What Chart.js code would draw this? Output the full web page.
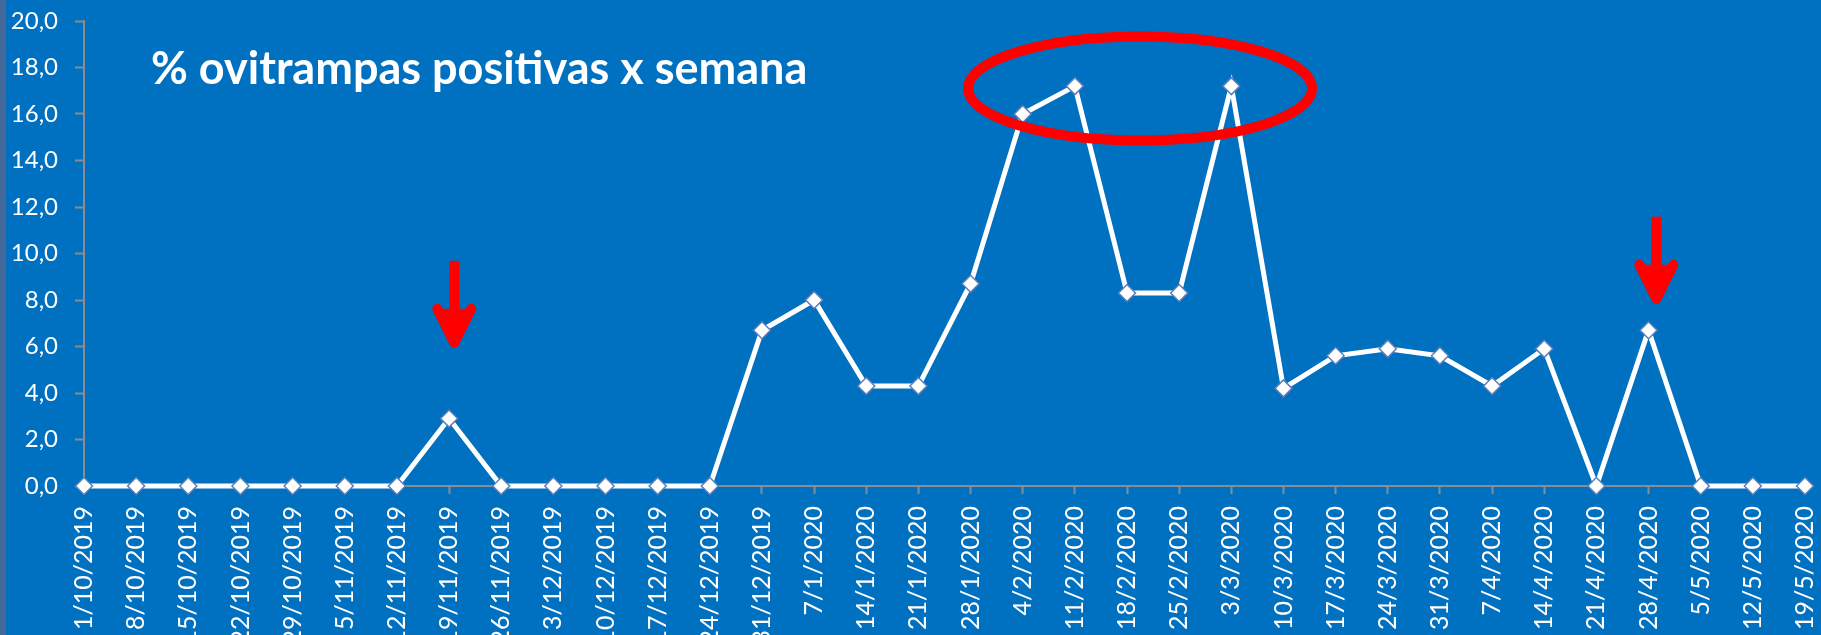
<!DOCTYPE html>
<html>
<head>
<meta charset="utf-8">
<script src="https://cdn.jsdelivr.net/npm/chart.js@4.4.1/dist/chart.umd.min.js"></script>
<style>
  html, body { margin: 0; padding: 0; background: #0070c0; overflow: hidden; }
  #wrap { width: 1821px; height: 635px; position: relative; }
</style>
</head>
<body>
<div id="wrap"><canvas id="grafico"></canvas></div>
<script>
// semanas (eixo x)
var semanas = ['1/10/2019', '8/10/2019', '15/10/2019', '22/10/2019', '29/10/2019',
    '5/11/2019', '12/11/2019', '19/11/2019', '26/11/2019',
    '3/12/2019', '10/12/2019', '17/12/2019', '24/12/2019', '31/12/2019',
    '7/1/2020', '14/1/2020', '21/1/2020', '28/1/2020',
    '4/2/2020', '11/2/2020', '18/2/2020', '25/2/2020',
    '3/3/2020', '10/3/2020', '17/3/2020', '24/3/2020', '31/3/2020',
    '7/4/2020', '14/4/2020', '21/4/2020', '28/4/2020',
    '5/5/2020', '12/5/2020', '19/5/2020'];

// % ovitrampas positivas
var positivas = [0, 0, 0, 0, 0,
    0, 0, 2.9, 0,
    0, 0, 0, 0, 6.7,
    8.0, 4.3, 4.3, 8.7,
    16.0, 17.2, 8.3, 8.3,
    17.2, 4.2, 5.6, 5.9, 5.6,
    4.3, 5.9, 0, 6.7,
    0, 0, 0];

var titulo = '% ovitrampas positivas x semana';

// setas vermelhas: indice da semana e valor onde fica a ponta
var setasIndice = [7.1, 30.15];
var setasValor = [5.9, 7.8];

// elipse vermelha: centro em indice/valor
var elipseIndice = 20.25;
var elipseValor = 17.1;

const fonte = 'Lato';
const azul = '#0070c0';
const vermelho = '#ff0000';

const desenhos = {
    id: 'desenhos',
    beforeDraw(chart) {
        const ctx = chart.ctx;
        ctx.save();
        ctx.fillStyle = azul;
        ctx.fillRect(0, 0, chart.width, chart.height);
        ctx.fillStyle = '#43689a';
        ctx.fillRect(0, 0, 6, chart.height);
        ctx.restore();
    },
    afterDraw(chart) {
        const ctx = chart.ctx;
        const x = chart.scales.x;
        const y = chart.scales.y;
        ctx.save();

        // titulo
        ctx.fillStyle = '#ffffff';
        ctx.font = 'bold 45px ' + fonte;
        ctx.textBaseline = 'alphabetic';
        ctx.fillText(titulo, 151, 84);

        // elipse
        ctx.strokeStyle = vermelho;
        ctx.lineWidth = 10;
        ctx.beginPath();
        ctx.ellipse(x.getPixelForValue(elipseIndice), y.getPixelForValue(elipseValor), 172, 52, 0, 0, Math.PI * 2);
        ctx.stroke();

        // setas
        for (var i = 0; i < setasIndice.length; i++) {
            var px = x.getPixelForValue(setasIndice[i]);
            var ponta = y.getPixelForValue(setasValor[i]);
            ctx.fillStyle = vermelho;
            ctx.strokeStyle = vermelho;
            ctx.lineWidth = 10;
            ctx.lineCap = 'butt';
            ctx.beginPath();
            ctx.moveTo(px, ponta - 88);
            ctx.lineTo(px, ponta - 30);
            ctx.stroke();
            ctx.lineJoin = 'round';
            ctx.lineCap = 'round';
            ctx.beginPath();
            ctx.moveTo(px - 17, ponta - 40);
            ctx.lineTo(px, ponta - 6);
            ctx.lineTo(px + 17, ponta - 40);
            ctx.stroke();
            ctx.beginPath();
            ctx.moveTo(px - 17, ponta - 40);
            ctx.lineTo(px + 17, ponta - 40);
            ctx.lineTo(px, ponta - 6);
            ctx.closePath();
            ctx.fill();
        }
        ctx.restore();
    }
};

const config = {
    type: 'line',
    data: {
        labels: semanas,
        datasets: [{
            label: titulo,
            data: positivas,
            borderColor: '#ffffff',
            borderWidth: 5,
            tension: 0,
            pointStyle: 'rectRot',
            pointRadius: 8.5,
            pointBackgroundColor: '#ffffff',
            pointBorderColor: '#5b7fb8',
            pointBorderWidth: 1.5,
            clip: false
        }]
    },
    options: {
        responsive: true,
        maintainAspectRatio: false,
        animation: false,
        events: [],
        layout: { padding: { top: 21, right: 16, left: 0, bottom: 0 } },
        plugins: {
            legend: { display: false },
            title: { display: false },
            tooltip: { enabled: false }
        },
        scales: {
            x: {
                offset: false,
                afterFit: function (scale) {
                    scale.height = 149;
                    scale.paddingLeft = 0;
                    scale.paddingRight = 0;
                },
                border: { display: true, color: '#8c8c8c', width: 2 },
                grid: { display: true, drawOnChartArea: false, tickLength: 8, tickColor: '#8c8c8c', tickWidth: 2 },
                ticks: {
                    color: '#ffffff',
                    font: { family: fonte, size: 25 },
                    minRotation: 90,
                    maxRotation: 90,
                    autoSkip: false,
                    padding: 12
                }
            },
            y: {
                min: 0,
                max: 20,
                afterFit: function (scale) {
                    scale.width = 84;
                    scale.paddingTop = 0;
                    scale.paddingBottom = 0;
                },
                border: { display: true, color: '#8c8c8c', width: 2 },
                grid: { display: true, drawOnChartArea: false, tickLength: 9, tickColor: '#8c8c8c', tickWidth: 2 },
                ticks: {
                    stepSize: 2,
                    color: '#ffffff',
                    font: { family: fonte, size: 24 },
                    padding: 17,
                    callback: function (v) { return v.toFixed(1).replace('.', ','); }
                }
            }
        }
    },
    plugins: [desenhos]
};

new Chart(document.getElementById('grafico'), config);
</script>
</body>
</html>
